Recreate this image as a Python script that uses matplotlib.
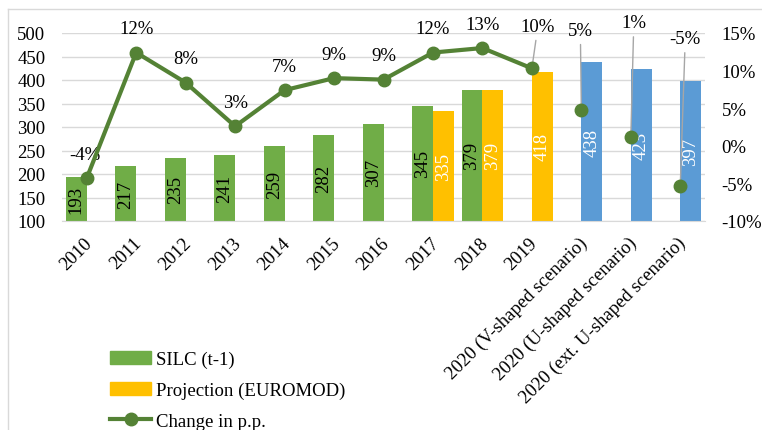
import numpy as np
import matplotlib
matplotlib.use("Agg")
import matplotlib.pyplot as plt
from matplotlib.lines import Line2D
from matplotlib.patches import Patch
from matplotlib.ticker import PercentFormatter
from matplotlib.transforms import ScaledTranslation

plt.rcParams['font.family'] = ['Liberation Serif', 'DejaVu Serif']
plt.rcParams['font.size'] = 13.5
plt.rcParams['axes.unicode_minus'] = False

categories = ['2010', '2011', '2012', '2013', '2014', '2015', '2016', '2017',
              '2018', '2019', '2020 (V-shaped scenario)',
              '2020 (U-shaped scenario)', '2020 (ext. U-shaped scenario)']
silc = [193, 217, 235, 241, 259, 282, 307, 345, 379, None, None, None, None]
projection = [None] * 7 + [335, 379, 418, None, None, None]
scenarios = [None] * 10 + [438, 423, 397]
change = [-4.3, 12.4, 8.4, 2.6, 7.4, 9.0, 8.8, 12.4, 13.0, 10.3, 4.7, 1.2, -5.3]
change_labels = ['-4%', '12%', '8%', '3%', '7%', '9%', '9%', '12%', '13%',
                 '10%', '5%', '1%', '-5%']
# label offsets in pixels (dx, dy)
label_offsets = [(-2, 24), (0, 24), (0, 24), (0, 24), (0, 24), (0, 24), (0, 24),
                 (0, 24), (0, 24), (6, 42), (-1, 80), (3, 114), (5, 147)]

GREEN = '#70AD47'
YELLOW = '#FFC000'
BLUE = '#5B9BD5'
LINE = '#548235'
GRID = '#D9D9D9'
FS = 13.5

fig = plt.figure(figsize=(7.62, 4.31), dpi=100)
ax = fig.add_axes([62 / 762, 1 - 222 / 431, 643 / 762, 188 / 431])
x = np.arange(len(categories))
w = 0.42
off = 0.21


def draw_bars(values, dx, color, txt_color):
    for xi, v in zip(x, values):
        if v is None:
            continue
        ax.bar(xi + dx, v - 100, w, bottom=100, color=color, zorder=2)
        ax.text(xi + dx, (100 + v) / 2, str(v), rotation=90, ha='center',
                va='center', color=txt_color, fontsize=FS, zorder=3)


draw_bars(silc, -off, GREEN, 'black')
draw_bars(projection, off, YELLOW, 'white')
draw_bars(scenarios, off, BLUE, 'white')

ax.set_xlim(-0.5, len(categories) - 0.5)
ax.set_ylim(100, 500)
ax.set_yticks(range(100, 501, 50))
ax.yaxis.grid(True, color=GRID, linewidth=1)
ax.set_axisbelow(True)
for s in ['top', 'right', 'left']:
    ax.spines[s].set_visible(False)
ax.spines['bottom'].set_color(GRID)
ax.tick_params(length=0, labelsize=FS)
ax.tick_params(axis='y', pad=12)
ax.set_xticks(x)
ax.set_xticklabels(categories, rotation=45, ha='right', rotation_mode='anchor')
ax.tick_params(axis='x', pad=5)
shift = ScaledTranslation(-3 / 100, -6 / 100, fig.dpi_scale_trans)
for lbl in ax.get_xticklabels():
    lbl.set_transform(lbl.get_transform() + shift)

ax2 = ax.twinx()
ax2.set_ylim(-10, 15)
ax2.set_yticks(range(-10, 16, 5))
ax2.yaxis.set_major_formatter(PercentFormatter(decimals=0))
for s in ax2.spines.values():
    s.set_visible(False)
ax2.tick_params(length=0, labelsize=FS, pad=12)

ax2.plot(x[:10], change[:10], color=LINE, linewidth=3, marker='o',
         markersize=9, zorder=4)
ax2.plot(x[10:], change[10:], linestyle='none', color=LINE, marker='o',
         markersize=9, zorder=4)

for i, (xi, c, lab) in enumerate(zip(x, change, change_labels)):
    dx, dy = label_offsets[i]
    if i >= 9:
        ax2.annotate(lab, (xi, c), xytext=(dx, dy), textcoords='offset pixels',
                     ha='center', va='center', fontsize=FS,
                     arrowprops=dict(arrowstyle='-', color='#A6A6A6', lw=1,
                                     shrinkA=2, shrinkB=0))
    else:
        ax2.annotate(lab, (xi, c), xytext=(dx, dy), textcoords='offset pixels',
                     ha='center', va='center', fontsize=FS)

handles = [Patch(color=GREEN), Patch(color=YELLOW),
           Line2D([0], [0], color=LINE, linewidth=3, marker='o', markersize=9)]
fig.legend(handles, ['SILC (t-1)', 'Projection (EUROMOD)', 'Change in p.p.'],
           loc='upper left', bbox_to_anchor=(110 / 762, 1 - 352 / 431),
           frameon=False, borderpad=0, borderaxespad=0, handlelength=2.2,
           handletextpad=0.25, labelspacing=0.72, fontsize=FS)

# chart area border
fig.add_artist(Line2D([8 / 762, 8 / 762], [0, 1 - 10 / 431], color=GRID,
                      linewidth=1, transform=fig.transFigure))
fig.add_artist(Line2D([8 / 762, 1], [1 - 10 / 431, 1 - 10 / 431], color=GRID,
                      linewidth=1, transform=fig.transFigure))

fig.savefig('out.png', dpi=100)
